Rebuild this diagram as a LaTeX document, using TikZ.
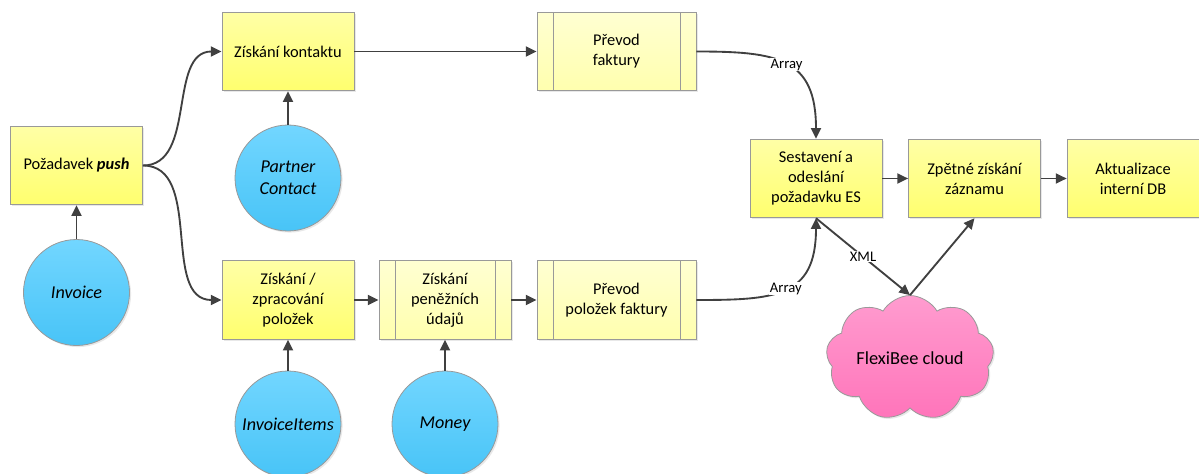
\documentclass[tikz,border=0pt]{standalone}
\usepackage{fontspec}
\setmainfont{Carlito}
\usetikzlibrary{arrows.meta,shapes.symbols,shadows}

\definecolor{boxtop}{HTML}{FFFFA6}
\definecolor{boxbot}{HTML}{FFFF6E}
\definecolor{subtop}{HTML}{FFFFD2}
\definecolor{subbot}{HTML}{FFFFAE}
\definecolor{dattop}{HTML}{72D6FF}
\definecolor{datbot}{HTML}{48C4F7}
\definecolor{cloudtop}{HTML}{FF9CCF}
\definecolor{cloudbot}{HTML}{FF74BA}
\definecolor{arrowgray}{HTML}{404040}

\tikzset{
  krok/.style={draw=black!40, line width=0.6pt, top color=boxtop, bottom color=boxbot,
    minimum width=99pt, minimum height=59pt, align=center,
    font=\fontsize{12.3}{15}\selectfont,
    drop shadow={opacity=0.18, shadow xshift=1.2pt, shadow yshift=-1.2pt}},
  podkrok/.style={krok, top color=subtop, bottom color=subbot,
    path picture={
      \draw[black!40, line width=0.6pt] ([xshift=12pt]path picture bounding box.north west)
        -- ([xshift=12pt]path picture bounding box.south west);
      \draw[black!40, line width=0.6pt] ([xshift=-12pt]path picture bounding box.north east)
        -- ([xshift=-12pt]path picture bounding box.south east);}},
  siroky/.style={minimum width=119.25pt},
  data/.style={circle, draw=black!40, line width=0.6pt, top color=dattop, bottom color=datbot,
    minimum size=79.5pt, inner sep=0pt, align=center,
    font=\fontsize{13.6}{16.5}\selectfont\itshape,
    drop shadow={opacity=0.18, shadow xshift=1.2pt, shadow yshift=-1.2pt}},
  oblak/.style={cloud, cloud puffs=9, cloud puff arc=120, aspect=1.5,
    draw=black!40, line width=0.6pt, top color=cloudtop, bottom color=cloudbot,
    minimum width=126pt, minimum height=90pt, inner sep=0pt,
    font=\fontsize{13.8}{16.5}\selectfont,
    drop shadow={opacity=0.18, shadow xshift=1.2pt, shadow yshift=-1.2pt}},
  spoj/.style={->, draw=arrowgray, line width=1.4pt},
  popis/.style={fill=white, inner sep=0.5pt, font=\fontsize{11}{13}\selectfont}
}

\begin{document}
\begin{tikzpicture}[x=0.75pt, y=-0.75pt,
    >={Triangle[length=8pt, width=7.5pt]}]
  \useasboundingbox (0,0) rectangle (1199,474);

  \node[krok] (push) at (76.5,165.5) {Požadavek \textbf{\textit{push}}};
  \node[data] (invoice) at (76.5,292.5) {Invoice};

  \node[krok] (kontakt) at (288,51.5) {Získání kontaktu};
  \node[data] (partner) at (288,178) {Partner\\Contact};
  \node[podkrok, siroky] (prevodf) at (616.5,51.5) {Převod\\faktury};

  \node[krok] (polozky) at (288,300) {Získání /\\zpracování\\položek};
  \node[podkrok] (penize) at (445,300) {Získání\\peněžních\\údajů};
  \node[podkrok, siroky] (prevodp) at (616.5,300) {Převod\\položek faktury};
  \node[data] (items) at (288,424) {InvoiceItems};
  \node[data] (money) at (445,424) {Money};

  \node[krok] (sestav) at (816,178.5) {Sestavení a\\odeslání\\požadavku ES};
  \node[krok] (zpet) at (974.5,178.5) {Zpětné získání\\záznamu};
  \node[krok] (aktual) at (1133,178.5) {Aktualizace\\interní DB};
  \node[oblak] (flexi) at (910,358) {FlexiBee cloud};

  \draw[spoj] (invoice) -- (push);
  \draw[spoj] (push.east) to[out=0, in=180] (kontakt.west);
  \draw[spoj] (push.east) to[out=0, in=180] (polozky.west);
  \draw[spoj] (partner) -- (kontakt);
  \draw[spoj] (kontakt) -- (prevodf);
  \draw[spoj] (items) -- (polozky);
  \draw[spoj] (money) -- (penize);
  \draw[spoj] (polozky) -- (penize);
  \draw[spoj] (penize) -- (prevodp);

  \draw[spoj] (prevodf.east) to[out=0, in=90, looseness=1.4] node[popis] {Array} (sestav.north);
  \draw[spoj] (prevodp.east) to[out=0, in=-90, looseness=1.4] node[popis] {Array} (sestav.south);
  \draw[spoj] (sestav.south) -- node[popis] {XML} (flexi.north);
  \draw[spoj] (flexi.north) -- (zpet.south);
  \draw[spoj] (sestav) -- (zpet);
  \draw[spoj] (zpet) -- (aktual);
\end{tikzpicture}
\end{document}
